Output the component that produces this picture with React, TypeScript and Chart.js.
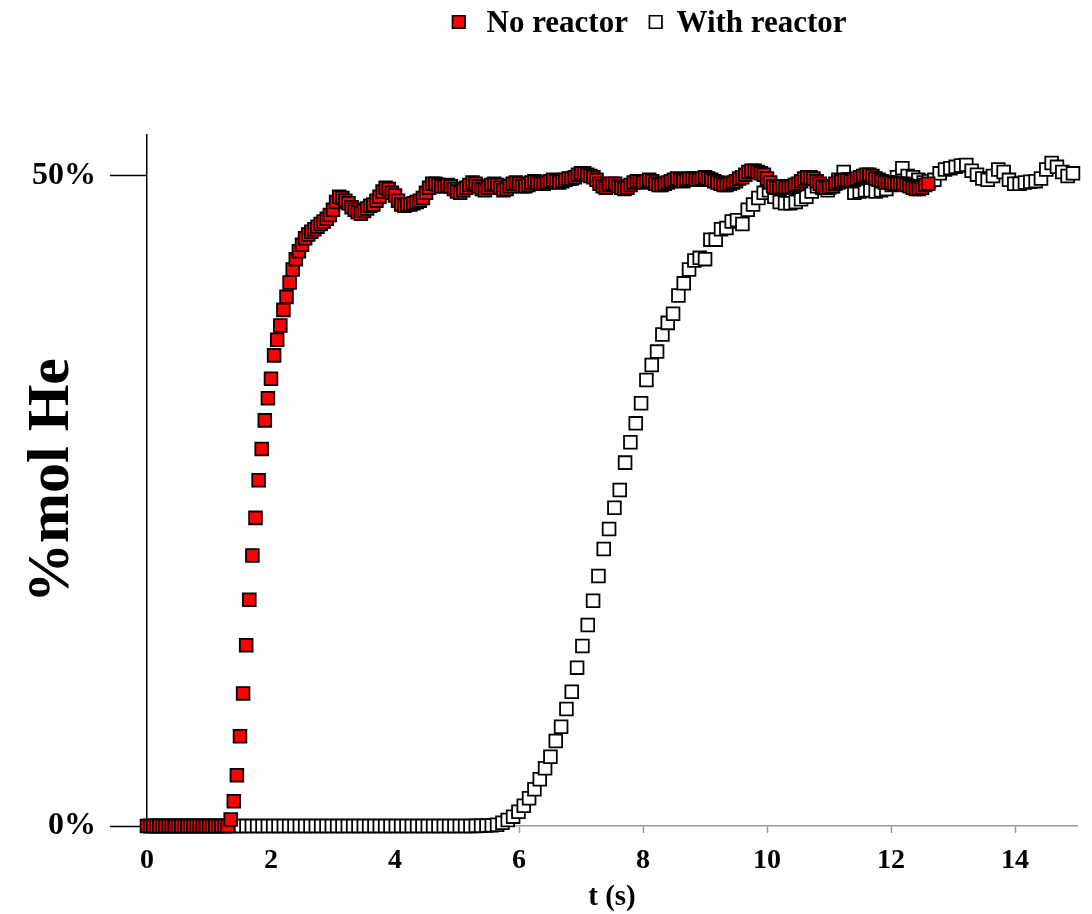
import React, { useEffect, useRef } from "react";
import { Chart, registerables } from "chart.js";

Chart.register(...registerables);

// ---------------- DATA ----------------
const SERIES_NAMES = ["No reactor", "With reactor"];

// "No reactor": sampled every 0.05 s from t = 0 s
const NO_REACTOR_T0 = 0;
const NO_REACTOR_DT = 0.05;
const NO_REACTOR = [
  0, 0, 0, 0, 0, 0, 0, 0, 0, 0,
  0, 0, 0, 0, 0, 0, 0, 0, 0, 0,
  0, 0, 0, 0, 0, 0, 0, 0.005, 0.019, 0.039,
  0.069, 0.102, 0.139, 0.174, 0.208, 0.237, 0.266, 0.290, 0.312, 0.329,
  0.344, 0.362, 0.374, 0.385, 0.397, 0.407, 0.418, 0.428, 0.436, 0.442,
  0.447, 0.452, 0.455, 0.457, 0.459, 0.461, 0.463, 0.465, 0.467, 0.470,
  0.474, 0.480, 0.484, 0.483, 0.481, 0.479, 0.476, 0.474, 0.472, 0.471,
  0.473, 0.475, 0.477, 0.478, 0.481, 0.484, 0.488, 0.491, 0.490, 0.487,
  0.485, 0.481, 0.478, 0.477, 0.478, 0.478, 0.479, 0.480, 0.481, 0.483,
  0.487, 0.491, 0.494, 0.494, 0.493, 0.492, 0.492, 0.493, 0.492, 0.490,
  0.488, 0.487, 0.489, 0.491, 0.493, 0.495, 0.494, 0.492, 0.490, 0.489,
  0.491, 0.493, 0.494, 0.493, 0.491, 0.489, 0.490, 0.492, 0.494, 0.495,
  0.494, 0.492, 0.492, 0.493, 0.495, 0.496, 0.495, 0.494, 0.494, 0.495,
  0.496, 0.497, 0.496, 0.495, 0.496, 0.497, 0.498, 0.498, 0.499, 0.501,
  0.502, 0.502, 0.501, 0.500, 0.499, 0.497, 0.494, 0.492, 0.491, 0.493,
  0.494, 0.494, 0.492, 0.491, 0.490, 0.491, 0.493, 0.495, 0.496, 0.496,
  0.495, 0.496, 0.497, 0.496, 0.494, 0.493, 0.493, 0.494, 0.495, 0.496,
  0.497, 0.498, 0.497, 0.496, 0.497, 0.498, 0.498, 0.497, 0.497, 0.498,
  0.499, 0.498, 0.497, 0.496, 0.495, 0.494, 0.493, 0.493, 0.494, 0.495,
  0.496, 0.498, 0.499, 0.501, 0.503, 0.504, 0.504, 0.503, 0.502, 0.501,
  0.498, 0.495, 0.492, 0.491, 0.491, 0.492, 0.491, 0.491, 0.492, 0.493,
  0.494, 0.496, 0.498, 0.499, 0.499, 0.498, 0.496, 0.494, 0.492, 0.491,
  0.491, 0.492, 0.494, 0.495, 0.496, 0.497, 0.497, 0.496, 0.497, 0.498,
  0.499, 0.500, 0.501, 0.501, 0.500, 0.498, 0.497, 0.496, 0.495, 0.495,
  0.495, 0.494, 0.494, 0.494, 0.494, 0.493, 0.492, 0.491, 0.490, 0.490,
  0.491, 0.493, 0.494,
];

// "With reactor": sampled every 0.086 s from t = 0.057 s
const WITH_REACTOR_T0 = 0.057;
const WITH_REACTOR_DT = 0.086;
const WITH_REACTOR = [
  0, 0, 0, 0, 0, 0, 0, 0, 0, 0,
  0, 0, 0, 0, 0, 0, 0, 0, 0, 0,
  0, 0, 0, 0, 0, 0, 0, 0, 0, 0,
  0, 0, 0, 0, 0, 0, 0, 0, 0, 0,
  0, 0, 0, 0, 0, 0, 0, 0, 0, 0,
  0, 0, 0, 0, 0, 0, 0, 0, 0, 0,
  0, 0.0001, 0.0002, 0.0003, 0.0005, 0.0009, 0.0025, 0.0046, 0.0072, 0.011,
  0.0156, 0.0213, 0.0282, 0.0359, 0.0444, 0.0533, 0.0654, 0.0764, 0.090, 0.1033,
  0.1218, 0.1385, 0.1546, 0.1733, 0.1923, 0.2131, 0.2285, 0.2448, 0.2585, 0.2795,
  0.2952, 0.3097, 0.3252, 0.343, 0.3546, 0.3649, 0.378, 0.387, 0.394, 0.408,
  0.4174, 0.428, 0.435, 0.437, 0.436, 0.451, 0.451, 0.459, 0.460, 0.465,
  0.466, 0.463, 0.474, 0.478, 0.483, 0.487, 0.489, 0.484, 0.480, 0.479,
  0.479, 0.480, 0.482, 0.484, 0.488, 0.492, 0.491, 0.489, 0.492, 0.497,
  0.503, 0.497, 0.487, 0.488, 0.489, 0.489, 0.488, 0.489, 0.490, 0.493,
  0.499, 0.506, 0.500, 0.499, 0.497, 0.495, 0.496, 0.497, 0.502, 0.505,
  0.506, 0.507, 0.508, 0.5085, 0.504, 0.501, 0.498, 0.497, 0.500, 0.505,
  0.503, 0.497, 0.494, 0.494, 0.495, 0.4955, 0.496, 0.498, 0.505, 0.510,
  0.507, 0.503, 0.500, 0.502,
];

const X_TICKS = [0, 2, 4, 6, 8, 10, 12, 14];
const Y_TICKS = [0, 0.5];
const X_TITLE = "t (s)";
const Y_TITLE = "%mol He";

// ---------------- STYLE ----------------
const FONT_FAMILY = '"Liberation Serif", "Times New Roman", serif';
const SERIES_FILL = ["#ff0000", "#ffffff"];

function toPoints(t0: number, dt: number, values: number[]) {
  return values.map((v, i) => ({ x: +(t0 + i * dt).toFixed(4), y: v }));
}

const topLegend = {
  id: "topLegend",
  afterDraw(chart: any) {
    const ctx = chart.ctx as CanvasRenderingContext2D;
    ctx.save();
    ctx.font = `bold 31px ${FONT_FAMILY}`;
    ctx.textBaseline = "alphabetic";
    ctx.textAlign = "left";
    let x = 452;
    const cy = 22;
    const side = 12.5;
    const gapsAfterMarker = [22, 15];
    chart.data.datasets.forEach((ds: any, i: number) => {
      ctx.fillStyle = ds.backgroundColor;
      ctx.strokeStyle = "#000";
      ctx.lineWidth = 1.7;
      ctx.beginPath();
      ctx.rect(x + 0.5, cy - side / 2, side, side);
      ctx.fill();
      ctx.stroke();
      x += side + gapsAfterMarker[i];
      ctx.fillStyle = "#000";
      ctx.fillText(ds.label, x, 32);
      x += ctx.measureText(ds.label).width + 21;
    });
    ctx.restore();
  },
};

export default function App() {
  const canvasRef = useRef<HTMLCanvasElement | null>(null);

  useEffect(() => {
    document.body.style.margin = "0";
    const canvas = canvasRef.current;
    if (!canvas) return;

    const chart = new Chart(canvas, {
      type: "scatter",
      data: {
        datasets: [
          {
            label: SERIES_NAMES[0],
            data: toPoints(NO_REACTOR_T0, NO_REACTOR_DT, NO_REACTOR),
            pointStyle: "rect",
            pointRadius: 9,
            pointBorderWidth: 1.8,
            backgroundColor: SERIES_FILL[0],
            borderColor: "#000",
            showLine: false,
            clip: false,
          },
          {
            label: SERIES_NAMES[1],
            data: toPoints(WITH_REACTOR_T0, WITH_REACTOR_DT, WITH_REACTOR),
            pointStyle: "rect",
            pointRadius: 9,
            pointBorderWidth: 1.8,
            backgroundColor: SERIES_FILL[1],
            borderColor: "#000",
            showLine: false,
            clip: false,
          },
        ],
      },
      options: {
        responsive: false,
        animation: false,
        devicePixelRatio: 1,
        events: [],
        layout: { padding: { top: 135, right: 15, bottom: 0, left: 0 } },
        plugins: {
          legend: { display: false },
          tooltip: { enabled: false },
        },
        scales: {
          x: {
            type: "linear",
            min: 0,
            max: 15,
            afterBuildTicks: (s: any) => {
              s.ticks = X_TICKS.map((v) => ({ value: v }));
            },
            afterFit: (s: any) => {
              s.height = 88;
            },
            ticks: {
              color: "#000",
              padding: 11,
              maxRotation: 0,
              font: { family: FONT_FAMILY, weight: "bold", size: 28 },
            },
            grid: {
              drawOnChartArea: false,
              drawTicks: true,
              tickLength: 7,
              tickColor: "#9a9a9a",
              tickWidth: 1.5,
            },
            border: { display: true, color: "#9a9a9a", width: 1.5 },
            title: {
              display: true,
              text: X_TITLE,
              color: "#000",
              font: { family: FONT_FAMILY, weight: "bold", size: 29, lineHeight: 1 },
              padding: { top: 0, bottom: 2 },
            },
          },
          y: {
            type: "linear",
            min: 0,
            max: 0.5315,
            afterBuildTicks: (s: any) => {
              s.ticks = Y_TICKS.map((v) => ({ value: v }));
            },
            afterFit: (s: any) => {
              s.width = 147;
            },
            ticks: {
              color: "#000",
              padding: 14,
              font: { family: FONT_FAMILY, weight: "bold", size: 32 },
              callback: (v: any) => `${Math.round(Number(v) * 100)}%`,
            },
            grid: {
              drawOnChartArea: false,
              drawTicks: true,
              tickLength: 37,
              tickColor: "#000",
              tickWidth: 1.5,
            },
            border: { display: true, color: "#000", width: 1.5 },
            title: {
              display: true,
              text: Y_TITLE,
              color: "#000",
              font: { family: FONT_FAMILY, weight: "bold", size: 60, lineHeight: 1 },
              padding: { top: 22, bottom: 0 },
            },
          },
        },
      } as any,
      plugins: [topLegend],
    });

    return () => chart.destroy();
  }, []);

  return (
    <div style={{ width: 1092, height: 914 }}>
      <canvas ref={canvasRef} width={1092} height={914} style={{ display: "block" }} />
    </div>
  );
}
